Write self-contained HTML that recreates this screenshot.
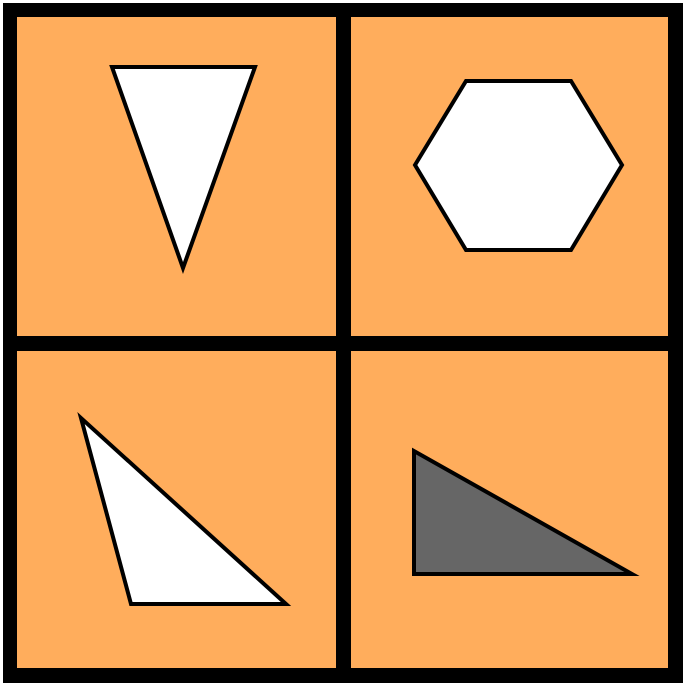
<!DOCTYPE html>
<html><head><style>html,body{margin:0;padding:0;background:#fff;}svg{display:block}</style></head>
<body>
<svg width="685" height="686" viewBox="0 0 685 686">
<rect x="3" y="3" width="680" height="680" fill="#000"/>
<rect x="17" y="17" width="319" height="319" fill="#FFAD5C"/>
<rect x="351" y="17" width="317" height="319" fill="#FFAD5C"/>
<rect x="17" y="351" width="319" height="317" fill="#FFAD5C"/>
<rect x="351" y="351" width="317" height="317" fill="#FFAD5C"/>
<g stroke="#000" stroke-width="4" stroke-linejoin="miter">
<polygon points="112,67 255,67 183,268" fill="#fff"/>
<polygon points="415,165 466,81 571,81 622,165 571,250 466,250" fill="#fff"/>
<polygon points="81,418 131,604 286,604" fill="#fff"/>
<polygon points="414,451 414,574 632,574" fill="#666"/>
</g>
</svg>
</body></html>
